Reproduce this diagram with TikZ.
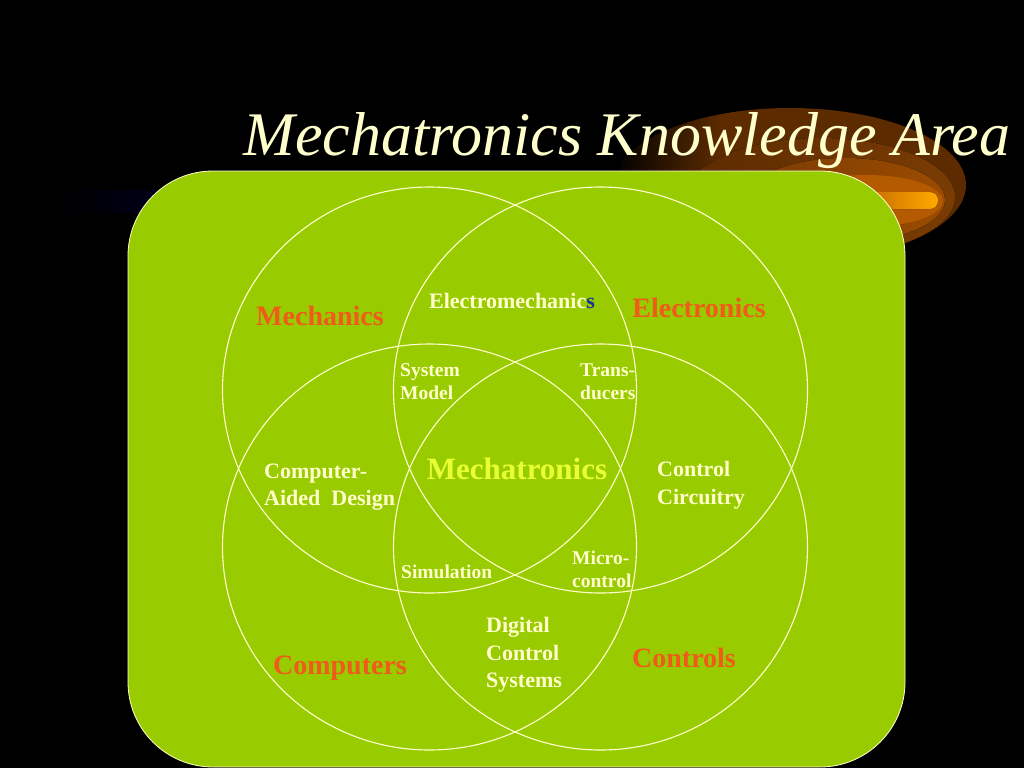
\documentclass[tikz,border=0pt]{standalone}
\usepackage{fontspec}
\setmainfont{Liberation Serif}
\definecolor{leaf}{HTML}{99CC00}
\definecolor{cream}{HTML}{FFFFCC}
\definecolor{fieldorange}{HTML}{F05A1A}
\definecolor{mtxyellow}{HTML}{E8FF33}
\definecolor{sblue}{HTML}{1A3399}
\definecolor{glowA}{HTML}{5C2B00}
\definecolor{glowB}{HTML}{7A3C04}
\definecolor{glowC}{HTML}{9A4B00}
\definecolor{glowE}{HTML}{B45A00}
\definecolor{glowD}{HTML}{FFAA00}
\definecolor{navy}{HTML}{00003C}
\pgfdeclarehorizontalshading{glowfade}{100bp}{color(0bp)=(black); color(25bp)=(black); color(40bp)=(glowA); color(100bp)=(glowA)}

\begin{document}
\begin{tikzpicture}[x=1pt, y=-1pt,
    area/.style={font=\fontsize{28}{32}\selectfont\bfseries, text=fieldorange},
    overlap/.style={font=\fontsize{19.5}{23}\selectfont\bfseries, text=cream, align=left, anchor=west, inner sep=0pt},
    pair/.style={font=\fontsize{22}{27.5}\selectfont\bfseries, text=cream, align=left, anchor=west, inner sep=0pt},
    ring/.style={draw=cream, line width=1.1pt}]

      \fill[black] (0,0) rectangle (1024,768);
      \useasboundingbox (0,0) rectangle (1024,768);
      %% glow behind the title
      \fill[shading=glowfade] (790,185) ellipse [x radius=176, y radius=77];
      \fill[left color=glowA, right color=glowB] (820,197) ellipse [x radius=135, y radius=59];
      \fill[left color=glowB, right color=glowC] (845,200) ellipse [x radius=100, y radius=42];
      \fill[glowE] (866,201) ellipse [x radius=77, y radius=26];
      \fill[left color=glowE, right color=glowD, rounded corners=8] (845,192) rectangle (938,209);
      \fill[left color=black, right color=navy] (60,190) rectangle (300,212);

      \node[font=\fontsize{62}{70}\selectfont\itshape, text=cream, anchor=base] (title) at (627,155) {Mechatronics Knowledge Area};

      %% board and circles
      \draw[draw=cream, line width=0.8pt, fill=leaf, rounded corners=85] (128,171) rectangle (905,767);
      \draw[ring] (429.5,390) ellipse [x radius=207, y radius=203];
      \draw[ring] (600.5,390) ellipse [x radius=207, y radius=203];
      \draw[ring] (429.5,547) ellipse [x radius=207, y radius=203];
      \draw[ring] (600.5,547) ellipse [x radius=207, y radius=203];

      %% fields
      \node[area] (mech) at (320,316) {Mechanics};
      \node[area] (elec) at (699,308) {Electronics};
      \node[area] (comp) at (340,668) {Computers};
      \node[area] (ctrl) at (684,658) {Controls};
      \node[font=\fontsize{31}{36}\selectfont\bfseries, text=mtxyellow] (mtx) at (517,469) {Mechatronics};

      %% overlaps
      \node[font=\fontsize{22}{26}\selectfont\bfseries, text=cream] (emech) at (512,301) {Electromechanic\textcolor{sblue}{s}};
      \node[overlap] (model) at (400,382) {System\\Model};
      \node[overlap] (trans) at (580,382) {Trans-\\ducers};
      \node[pair] (cad) at (264,487) {Computer-\\Aided~~Design};
      \node[pair] (circ) at (657,485) {Control\\Circuitry};
      \node[overlap] (sim) at (401,572) {Simulation};
      \node[overlap] (micro) at (572,569) {Micro-\\control};
      \node[pair] (dcs) at (486,655) {Digital\\Control\\Systems};

\end{tikzpicture}
\end{document}
